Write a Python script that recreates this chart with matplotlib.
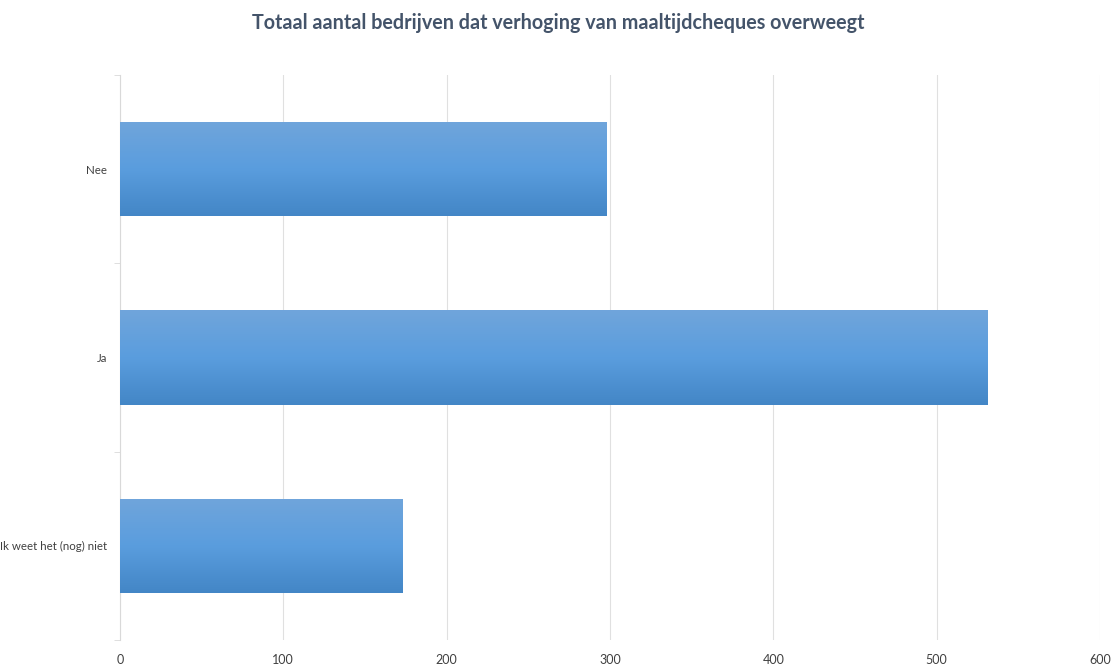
import matplotlib.pyplot as plt
import numpy as np
from matplotlib.colors import LinearSegmentedColormap

categories = ['Nee', 'Ja', 'Ik weet het (nog) niet']
values = [298, 531, 173]
x_ticks = [0, 100, 200, 300, 400, 500, 600]

plt.rcParams['font.family'] = ['Lato', 'DejaVu Sans']

fig = plt.figure(figsize=(11.17, 6.68), dpi=100)
ax = fig.add_axes([0.1074, 0.0419, 0.8774, 0.8458])

y = np.arange(len(categories))
bars = ax.barh(y, values, height=0.5, color='#5A9BDB', zorder=2)

# verticale kleurverloop in elke balk
cmap = LinearSegmentedColormap.from_list('grad', ['#70A5DB', '#5A9DDE', '#4386C6'])
grad = np.linspace(0, 1, 256).reshape(-1, 1)
for b in bars:
    x0, y0 = b.get_x(), b.get_y()
    w, h = b.get_width(), b.get_height()
    im = ax.imshow(grad, cmap=cmap, aspect='auto', origin='upper',
                   extent=[x0, x0 + w, y0 + h, y0], zorder=3)
    im.set_clip_path(b)

ax.set_xlim(0, 600)
ax.set_ylim(len(categories) - 0.5, -0.5)
ax.set_xticks(x_ticks)
ax.set_yticks(y)
ax.set_yticklabels(categories)
ax.set_yticks(np.arange(len(categories) + 1) - 0.5, minor=True)

ax.grid(axis='x', color='#E0E0E0', linewidth=0.8, zorder=0)
for s in ['top', 'right', 'bottom']:
    ax.spines[s].set_visible(False)
ax.spines['left'].set_color('#D9D9D9')
ax.tick_params(axis='x', length=0, labelsize=9, labelcolor='#404040', pad=10)
ax.tick_params(axis='y', which='major', length=0, labelsize=8.3, labelcolor='#404040', pad=9)
ax.tick_params(axis='y', which='minor', length=4, color='#D9D9D9')

fig.suptitle('Totaal aantal bedrijven dat verhoging van maaltijdcheques overweegt',
             x=0.5, y=0.98, fontsize=14.2, fontweight='bold', color='#44546A')

fig.savefig('out.png', dpi=100)
